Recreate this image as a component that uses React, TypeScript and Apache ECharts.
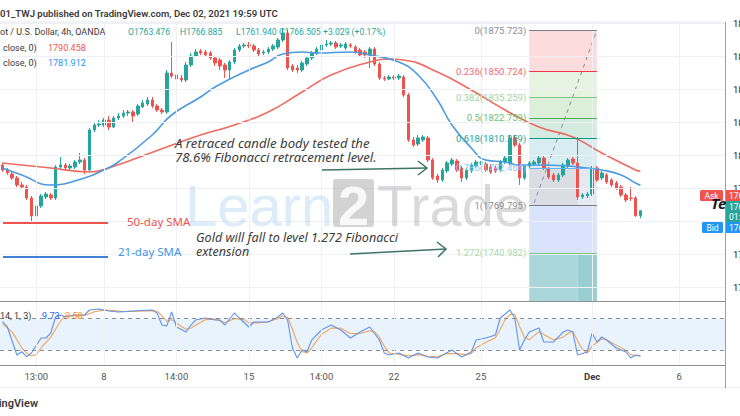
import React, { useEffect, useRef } from 'react';
import * as echarts from 'echarts';

// ---- data ----
const N = 150;
const cats = Array.from({ length: N }, (_, i) => 'b' + i);

// [open, close, low, high]
const candles: number[][] = [
  [1794.22, 1791.19, 1789.98, 1795.43], [1791.19, 1789.37, 1788.16, 1792.4], [1788.76, 1786.34, 1785.13, 1789.98],
  [1786.34, 1782.1, 1780.89, 1787.55], [1782.1, 1780.89, 1779.67, 1783.92], [1780.89, 1774.22, 1773.01, 1782.1],
  [1774.22, 1763.31, 1759.68, 1775.43], [1763.31, 1769.37, 1762.1, 1770.58], [1769.37, 1775.43, 1768.16, 1776.64],
  [1774.83, 1776.64, 1773.61, 1777.86], [1776.04, 1774.22, 1773.01, 1777.25], [1774.22, 1793.0, 1773.01, 1794.22],
  [1793.0, 1794.22, 1791.79, 1799.06], [1794.22, 1792.4, 1791.19, 1795.43], [1792.4, 1793.61, 1791.19, 1794.82],
  [1793.0, 1796.03, 1791.79, 1797.24], [1796.03, 1797.24, 1794.82, 1801.49], [1797.24, 1791.19, 1788.76, 1798.46],
  [1791.19, 1815.43, 1789.98, 1816.64], [1815.43, 1818.46, 1814.21, 1820.27], [1818.46, 1819.06, 1817.24, 1821.49],
  [1818.46, 1821.49, 1817.24, 1822.7], [1821.49, 1817.24, 1815.43, 1823.91], [1817.24, 1822.7, 1816.64, 1823.91],
  [1822.7, 1823.91, 1821.49, 1825.73], [1823.91, 1825.73, 1822.7, 1827.55], [1825.73, 1826.33, 1823.91, 1827.55],
  [1826.33, 1823.91, 1820.27, 1827.55], [1825.12, 1829.97, 1823.91, 1831.18], [1829.36, 1831.79, 1828.76, 1833.61],
  [1831.18, 1833.61, 1829.97, 1835.43], [1833.61, 1829.97, 1828.76, 1835.43], [1829.97, 1827.55, 1826.33, 1831.18],
  [1827.55, 1826.33, 1825.12, 1828.76], [1826.33, 1849.97, 1825.12, 1851.79], [1849.97, 1848.15, 1846.94, 1868.76],
  [1848.76, 1846.33, 1845.12, 1850.58], [1846.94, 1845.73, 1844.52, 1848.76], [1845.73, 1854.82, 1844.52, 1856.64],
  [1854.82, 1860.27, 1853.61, 1862.09], [1860.27, 1862.7, 1859.67, 1864.52], [1863.3, 1862.09, 1860.88, 1864.52],
  [1862.7, 1860.88, 1859.67, 1863.91], [1862.09, 1859.06, 1857.85, 1863.3], [1859.06, 1856.03, 1854.21, 1860.27],
  [1857.85, 1854.21, 1851.79, 1859.06], [1854.82, 1851.79, 1846.94, 1856.03], [1851.79, 1856.64, 1845.73, 1857.85],
  [1856.64, 1863.91, 1855.42, 1865.12], [1863.91, 1866.33, 1862.7, 1867.55], [1866.33, 1866.94, 1865.12, 1868.15],
  [1866.94, 1866.33, 1865.12, 1868.76], [1866.33, 1863.91, 1862.7, 1867.55], [1863.91, 1861.49, 1860.27, 1865.12],
  [1862.09, 1862.7, 1860.88, 1863.91], [1862.7, 1864.52, 1861.49, 1865.73], [1864.52, 1866.33, 1863.3, 1867.55],
  [1865.73, 1869.97, 1864.52, 1871.18], [1869.97, 1874.21, 1868.76, 1877.24], [1874.21, 1853.0, 1851.79, 1876.03],
  [1854.21, 1851.79, 1850.58, 1855.42], [1853.0, 1851.79, 1849.97, 1854.82], [1851.79, 1856.03, 1850.58, 1857.24],
  [1855.42, 1859.06, 1854.21, 1860.27], [1859.06, 1862.09, 1857.85, 1863.3], [1862.09, 1864.52, 1860.88, 1865.73],
  [1863.91, 1866.94, 1862.7, 1868.15], [1866.94, 1867.55, 1865.73, 1869.97], [1867.55, 1868.15, 1866.33, 1869.36],
  [1868.15, 1865.73, 1864.52, 1869.36], [1866.33, 1866.94, 1865.12, 1868.15], [1865.12, 1867.55, 1863.91, 1868.76],
  [1866.94, 1866.33, 1865.12, 1868.15], [1865.73, 1862.7, 1861.49, 1866.94], [1863.91, 1860.88, 1859.67, 1865.12],
  [1862.7, 1860.88, 1859.06, 1863.91], [1860.88, 1864.52, 1853.0, 1865.73], [1864.52, 1855.42, 1854.21, 1865.73],
  [1855.42, 1846.94, 1845.73, 1856.64], [1846.94, 1846.33, 1845.12, 1848.15], [1846.33, 1847.55, 1845.73, 1848.76],
  [1847.55, 1846.94, 1845.73, 1848.76], [1846.94, 1848.15, 1845.73, 1849.36], [1847.55, 1836.64, 1835.43, 1848.76],
  [1836.64, 1809.36, 1808.15, 1837.85], [1809.36, 1806.34, 1805.12, 1811.18], [1806.94, 1810.58, 1805.73, 1812.4],
  [1809.36, 1811.18, 1808.15, 1812.4], [1810.58, 1797.24, 1796.03, 1811.79], [1797.24, 1786.34, 1785.13, 1798.46],
  [1787.55, 1785.13, 1783.31, 1788.76], [1785.13, 1791.19, 1783.92, 1792.4], [1790.58, 1795.43, 1789.37, 1796.64],
  [1794.82, 1797.24, 1793.61, 1798.46], [1796.64, 1791.19, 1789.98, 1797.85], [1792.4, 1786.34, 1783.92, 1793.61],
  [1786.34, 1791.19, 1785.13, 1792.4], [1790.58, 1794.22, 1789.37, 1795.43], [1793.61, 1796.03, 1792.4, 1797.24],
  [1795.43, 1795.63, 1794.22, 1796.64], [1794.82, 1791.19, 1789.98, 1796.03], [1793.0, 1789.98, 1788.76, 1794.22],
  [1792.4, 1790.58, 1789.37, 1793.61], [1791.19, 1796.03, 1789.98, 1797.24], [1796.03, 1798.46, 1794.82, 1800.27],
  [1795.43, 1810.58, 1794.22, 1812.4], [1810.58, 1806.34, 1805.12, 1812.4], [1806.34, 1786.34, 1782.1, 1807.55],
  [1786.34, 1793.61, 1785.13, 1794.82], [1793.61, 1795.43, 1792.4, 1796.64], [1794.82, 1796.03, 1793.61, 1797.24],
  [1795.43, 1798.46, 1794.22, 1800.27], [1798.46, 1792.4, 1791.19, 1799.67], [1791.79, 1786.95, 1785.73, 1793.0],
  [1788.16, 1785.13, 1783.92, 1789.37], [1785.13, 1788.16, 1783.92, 1789.37], [1788.16, 1794.22, 1786.95, 1795.43],
  [1793.61, 1797.24, 1792.4, 1798.46], [1797.85, 1795.43, 1794.22, 1799.06], [1795.43, 1774.83, 1773.01, 1811.18],
  [1774.83, 1776.04, 1773.61, 1777.25], [1775.43, 1776.64, 1774.22, 1777.86], [1776.64, 1792.4, 1775.43, 1793.61],
  [1792.4, 1785.13, 1783.92, 1793.61], [1786.34, 1789.37, 1785.13, 1790.58], [1788.16, 1783.92, 1782.7, 1789.37],
  [1785.13, 1782.1, 1780.89, 1786.34], [1783.31, 1780.28, 1779.07, 1784.52], [1780.89, 1776.04, 1774.83, 1782.1],
  [1776.04, 1773.01, 1771.8, 1777.25], [1774.22, 1774.02, 1772.4, 1780.89], [1774.22, 1763.48, 1762.71, 1775.43],
  [1763.476, 1766.505, 1761.94, 1766.885],
];

// [bar index, value]
const sma50: number[][] = [
  [0, 1795.43], [10, 1792.4], [18, 1789.98], [22, 1792.4], [34, 1805.12], [41, 1812.4], [48, 1818.46],
  [55, 1826.33], [62, 1838.46], [68, 1848.76], [76, 1856.64], [80, 1858.45], [83, 1857.85], [90, 1850.58],
  [97, 1839.67], [104, 1827.55], [111, 1817.24], [118, 1811.18], [124, 1801.49], [131, 1791.19], [132, 1790.458],
];
const sma21: number[][] = [
  [0, 1792.4], [4, 1788.16], [10, 1782.1], [17, 1786.34], [21, 1791.19], [24, 1796.03], [31, 1812.4],
  [35, 1824.51], [41, 1835.43], [44, 1841.49], [51, 1851.79], [55, 1856.64], [58, 1861.49], [62, 1862.7],
  [65, 1862.09], [72, 1862.7], [76, 1860.88], [82, 1856.64], [86, 1848.76], [90, 1833.61], [93, 1818.46],
  [97, 1804.52], [100, 1797.24], [104, 1796.03], [107, 1794.22], [111, 1794.22], [117, 1793.61],
  [121, 1792.4], [124, 1791.19], [128, 1788.16], [131, 1783.31], [132, 1781.912],
];
const stochK: number[][] = [
  [0, 74.2], [1, 64.7], [3, 11.3], [4, 17.5], [5, 8.1], [6, 15.1], [8, 43.4], [9, 43.4], [10, 52.8], [11, 83.0],
  [12, 86.8], [13, 83.0], [15, 86.8], [17, 86.8], [18, 96.2], [20, 98.1], [22, 94.3], [24, 92.5], [27, 94.3],
  [31, 96.2], [32, 90.6], [33, 67.9], [34, 66.0], [35, 92.5], [36, 64.2], [38, 54.7], [39, 67.9], [40, 77.4],
  [42, 81.1], [44, 77.4], [45, 77.4], [46, 67.9], [48, 90.6], [49, 81.1], [51, 64.2], [52, 73.6], [55, 73.6],
  [57, 83.0], [58, 90.6], [59, 77.4], [60, 24.5], [61, 5.7], [62, 20.8], [63, 17.0], [64, 39.6], [66, 58.5],
  [68, 67.9], [70, 58.5], [72, 43.4], [74, 54.7], [76, 64.2], [78, 39.6], [79, 15.1], [80, 11.3], [82, 15.1],
  [84, 5.7], [86, 15.1], [88, 7.5], [90, 5.7], [93, 20.8], [95, 7.5], [97, 17.0], [98, 39.6], [100, 43.4],
  [102, 49.1], [103, 81.1], [105, 96.2], [106, 81.1], [107, 20.8], [108, 39.6], [109, 54.7], [111, 62.3],
  [112, 35.8], [114, 35.8], [116, 54.7], [117, 58.5], [118, 54.7], [119, 11.3], [121, 17.0], [122, 52.8],
  [123, 35.8], [124, 45.3], [125, 39.6], [127, 24.5], [129, 17.0], [130, 5.7], [131, 11.3], [132, 9.73],
];
const stochD: number[][] = [
  [0, 70], [2, 55], [4, 25], [5, 15], [6, 10], [7, 12], [8, 25], [9, 35], [10, 45], [11, 60], [12, 75], [13, 85],
  [15, 85], [17, 86], [19, 93], [21, 96], [23, 95], [25, 93], [28, 94], [31, 95], [32, 94], [33, 85], [34, 75],
  [35, 78], [36, 72], [37, 65], [38, 60], [39, 62], [40, 68], [42, 78], [44, 79], [46, 72], [47, 76], [48, 80],
  [50, 78], [51, 72], [53, 72], [55, 74], [57, 80], [58, 85], [59, 82], [60, 60], [61, 35], [62, 18], [63, 15],
  [64, 25], [65, 38], [66, 50], [68, 62], [70, 62], [72, 52], [74, 52], [76, 57], [77, 55], [78, 45], [79, 28],
  [80, 15], [82, 13], [84, 10], [86, 12], [88, 9], [90, 8], [92, 14], [94, 14], [96, 12], [97, 14], [98, 25],
  [100, 35], [102, 44], [103, 60], [104, 78], [105, 88], [106, 88], [107, 65], [108, 45], [109, 40], [110, 48],
  [111, 55], [112, 50], [114, 40], [116, 45], [117, 52], [118, 56], [119, 38], [120, 22], [121, 15], [122, 28],
  [123, 35], [124, 42], [125, 40], [127, 30], [129, 20], [130, 12], [131, 10], [132, 9.58],
];

const timeTicks = [7, 21, 36, 51, 66, 81, 99, 122, 140];
const timeLabels = ['13:00', '8', '14:00', '15', '14:00', '22', '25', 'Dec', '6'];
const priceTicks = [1880, 1860, 1840, 1820, 1800, 1780, 1760, 1740, 1720];
const stochTicks = [100, 50, 0];
const stochBand = [20, 80];

const fibLevels = ['0', '0.236', '0.382', '0.5', '0.618', '0.786', '1', '1.272'];
const fibPrices = [1875.723, 1850.724, 1835.259, 1822.759, 1810.259, 1792.464, 1769.795, 1740.982];
const fibLineColors = ['#787b86', '#f23645', '#81c784', '#4caf50', '#089981', '#64b5f6', '#787b86', '#81c784'];
const fibLabelColors = ['#8a8d96', '#f26b75', '#9fd3a1', '#6dbf70', '#2aa594', '#8cc7f7', '#8a8d96', '#a7d8a9'];
const fibAreaColors = ['#fcdcdc', '#e6f3e0', '#dcefd8', '#d3ebe1', '#d8edf1', '#e4e9f2', '#d9e3fb'];
const fibStart = 109;
const fibMid = 119;
const fibEnd = 123;
const fibTrend = [[110, 1771.2], [123, 1876.0]];

const Y_MIN = 1711.784;
const Y_MAX = 1880.875;
const S_MIN = -7.5;
const S_MAX = 111.3;

const FONT = 'Roboto, "Noto Sans", sans-serif';
const IFONT = '"Noto Sans", "DejaVu Sans", sans-serif';
const WFONT = '"Liberation Sans", Arial, sans-serif';

function buildOption() {
  const c = (i: number) => cats[i];
  const pricePairs = (arr: number[][]) => arr.map(([i, v]) => [c(i), v]);

  const fibAreas: any[] = [];
  for (let k = 0; k < fibPrices.length - 1; k++) {
    fibAreas.push([
      { xAxis: c(fibStart), yAxis: fibPrices[k], itemStyle: { color: fibAreaColors[k] } },
      { xAxis: c(fibEnd), yAxis: fibPrices[k + 1] },
    ]);
  }
  fibAreas.push([
    { xAxis: c(fibStart), yAxis: fibPrices[7], itemStyle: { color: '#aad6d9' } },
    { xAxis: c(fibMid), yAxis: Y_MIN },
  ]);
  fibAreas.push([
    { xAxis: c(fibMid), yAxis: fibPrices[7], itemStyle: { color: '#99ced2' } },
    { xAxis: c(fibEnd), yAxis: Y_MIN },
  ]);
  fibAreas.push([
    { xAxis: c(fibStart), yAxis: fibPrices[5], itemStyle: { color: 'rgba(200,200,200,0.35)' } },
    { xAxis: c(fibMid), yAxis: fibPrices[6] },
  ]);

  const fibLines = fibPrices.map((p, k) => [
    {
      coord: [c(fibStart), p],
      lineStyle: { color: fibLineColors[k], width: 1, type: 'solid' },
      label: {
        show: true,
        position: 'start',
        distance: 3,
        formatter: `${fibLevels[k]}(${p.toFixed(3)})`,
        color: fibLabelColors[k],
        fontSize: 9.5,
        fontFamily: FONT,
        padding: [0, 0, 9, 0],
      },
    },
    { coord: [c(fibEnd), p] },
  ]);

  const txt = (x: number, y: number, text: string, fill: string, extra: any = {}, z = 30) => ({
    type: 'text', z, x, y,
    style: { text, fill, fontSize: 9, fontFamily: FONT, verticalAlign: 'middle', ...extra },
  });

  return {
    animation: false,
    backgroundColor: '#ffffff',
    grid: [
      { left: 0, right: 15, top: 22, height: 279 },
      { left: 0, right: 15, top: 302, height: 63 },
    ],
    xAxis: [
      {
        type: 'category', gridIndex: 0, data: cats, boundaryGap: true,
        axisLine: { show: false }, axisTick: { show: false }, axisLabel: { show: false }, splitLine: { show: false },
      },
      {
        type: 'category', gridIndex: 1, data: cats, boundaryGap: true,
        axisLine: { show: false }, axisTick: { show: false }, splitLine: { show: false },
        axisLabel: {
          show: true,
          interval: (i: number) => timeTicks.indexOf(i) >= 0,
          formatter: (_v: string, i: number) => {
            const k = timeTicks.indexOf(i);
            if (k < 0) return '';
            return timeLabels[k] === 'Dec' ? '{b|Dec}' : timeLabels[k];
          },
          rich: { b: { fontWeight: 'bold', color: '#3a3a3a', fontSize: 9.5, fontFamily: FONT } },
          margin: 6,
          fontSize: 9.5,
          fontFamily: FONT,
          color: '#555555',
        },
      },
    ],
    yAxis: [
      {
        type: 'value', gridIndex: 0, min: Y_MIN, max: Y_MAX, position: 'right',
        axisLine: { show: false }, axisTick: { show: false }, axisLabel: { show: false }, splitLine: { show: false },
      },
      {
        type: 'value', gridIndex: 1, min: S_MIN, max: S_MAX, position: 'right',
        axisLine: { show: false }, axisTick: { show: false }, axisLabel: { show: false }, splitLine: { show: false },
      },
    ],
    series: [
      {
        type: 'line', xAxisIndex: 0, yAxisIndex: 0, data: [], z: 0, silent: true,
        markLine: {
          silent: true, symbol: ['none', 'none'], animation: false,
          lineStyle: { color: '#eef0f5', width: 1, type: 'solid' },
          label: { show: false },
          emphasis: { disabled: true },
          data: [
            ...priceTicks.map((v) => ({
              yAxis: v,
              label: { show: true, position: 'end', distance: 8, formatter: v.toFixed(3), color: '#131722', fontSize: 9.5, fontFamily: FONT },
            })),
            ...timeTicks.map((i) => ({ xAxis: c(i) })),
          ],
        },
      },
      {
        type: 'line', xAxisIndex: 0, yAxisIndex: 0, data: [], z: 1, silent: true,
        markArea: { silent: true, data: fibAreas },
        markLine: { silent: true, symbol: ['none', 'none'], emphasis: { disabled: true }, data: fibLines },
      },
      {
        type: 'line', xAxisIndex: 0, yAxisIndex: 0, z: 2, silent: true, showSymbol: false,
        data: fibTrend.map(([i, v]) => [c(i), v]),
        lineStyle: { color: '#8a8d96', width: 1, type: [4, 4] },
      },
      {
        type: 'candlestick', xAxisIndex: 0, yAxisIndex: 0, z: 3, barWidth: 3,
        data: candles,
        itemStyle: { color: '#26a69a', color0: '#ef5350', borderColor: '#26a69a', borderColor0: '#ef5350', borderWidth: 1 },
      },
      {
        type: 'line', xAxisIndex: 0, yAxisIndex: 0, z: 4, smooth: true, showSymbol: false, silent: true,
        data: pricePairs(sma50), lineStyle: { color: '#ef6b5f', width: 1.6 },
      },
      {
        type: 'line', xAxisIndex: 0, yAxisIndex: 0, z: 4, smooth: true, showSymbol: false, silent: true,
        data: pricePairs(sma21), lineStyle: { color: '#4a9ae0', width: 1.6 },
      },
      {
        type: 'line', xAxisIndex: 1, yAxisIndex: 1, data: [], z: 0, silent: true,
        markArea: {
          silent: true,
          data: [[{ yAxis: stochBand[0], itemStyle: { color: '#e9f3fd' } }, { yAxis: stochBand[1] }]],
        },
        markLine: {
          silent: true, symbol: ['none', 'none'], emphasis: { disabled: true },
          data: [
            ...stochBand.map((v) => ({ yAxis: v, lineStyle: { color: '#8a8d96', width: 1, type: [4, 4] }, label: { show: false } })),
            ...timeTicks.map((i) => ({ xAxis: c(i), lineStyle: { color: '#eef0f5', width: 1, type: 'solid' }, label: { show: false } })),
            ...stochTicks.map((v) => ({
              yAxis: v, lineStyle: { opacity: 0 },
              label: { show: true, position: 'end', distance: 8, formatter: v.toFixed(2), color: '#131722', fontSize: 9.5, fontFamily: FONT },
            })),
          ],
        },
      },
      {
        type: 'line', xAxisIndex: 1, yAxisIndex: 1, z: 3, showSymbol: false, silent: true,
        data: pricePairs(stochD), lineStyle: { color: '#f5a25c', width: 1.1 },
      },
      {
        type: 'line', xAxisIndex: 1, yAxisIndex: 1, z: 4, showSymbol: false, silent: true,
        data: pricePairs(stochK), lineStyle: { color: '#6193ea', width: 1.1 },
      },
    ],
    graphic: [
      // pane borders
      { type: 'line', z: 20, shape: { x1: 0, y1: 22, x2: 725, y2: 22 }, style: { stroke: '#e4e6eb', lineWidth: 1 } },
      { type: 'line', z: 20, shape: { x1: 0, y1: 301.5, x2: 725, y2: 301.5 }, style: { stroke: '#8c8f96', lineWidth: 1.2 } },
      { type: 'line', z: 20, shape: { x1: 0, y1: 365.5, x2: 725, y2: 365.5 }, style: { stroke: '#8c8f96', lineWidth: 1.2 } },
      { type: 'line', z: 20, shape: { x1: 0, y1: 387.5, x2: 740, y2: 387.5 }, style: { stroke: '#eceef2', lineWidth: 1 } },
      { type: 'line', z: 20, shape: { x1: 725.5, y1: 22, x2: 725.5, y2: 388 }, style: { stroke: '#9a9da5', lineWidth: 1 } },
      // header
      txt(0, 13, '01_TWJ published on TradingView.com, Dec 02, 2021 19:59 UTC', '#3a3a3a', { fontSize: 9.6, fontWeight: 600 }),
      txt(0, 32, 'ot / U.S. Dollar, 4h, OANDA', '#3a3a3a'),
      txt(128, 32, 'O1763.476', '#26a69a', { fontSize: 8.6 }),
      txt(180, 32, 'H1766.885', '#26a69a', { fontSize: 8.6 }),
      txt(236, 32, 'L1761.940', '#26a69a', { fontSize: 8.6 }),
      txt(279, 32, 'C1766.505', '#26a69a', { fontSize: 8.6 }),
      txt(323, 32, '+3.029 (+0.17%)', '#26a69a', { fontSize: 8.6 }),
      txt(3, 48, 'close, 0)', '#3a3a3a'),
      txt(48, 48, '1790.458', '#ef5350'),
      txt(3, 63, 'close, 0)', '#3a3a3a'),
      txt(48, 63, '1781.912', '#2196f3'),
      // stoch header
      txt(0, 316, '14, 1, 3)', '#3a3a3a'),
      txt(42, 316, '9.73', '#2962ff'),
      txt(65, 316, '9.58', '#ff8a1f'),
      // footer
      txt(38, 403, 'TradingView', '#3a3a3a', { fontSize: 11, fontWeight: 600, align: 'right' }),
      // watermark
      { type: 'text', z: 15, x: 185, y: 205, style: { text: 'Learn', fill: 'rgba(130,185,235,0.28)', fontSize: 58, fontFamily: WFONT, verticalAlign: 'middle' } },
      { type: 'rect', z: 15, shape: { x: 333, y: 179, width: 41, height: 48, r: 3 }, style: { fill: 'rgba(150,150,150,0.42)' } },
      { type: 'text', z: 16, x: 353.5, y: 205, style: { text: '2', fill: 'rgba(255,255,255,0.85)', fontSize: 56, fontWeight: 'bold', fontFamily: WFONT, align: 'center', verticalAlign: 'middle' } },
      { type: 'text', z: 15, x: 377, y: 205, style: { text: 'Trade', fill: 'rgba(150,150,150,0.35)', fontSize: 58, fontFamily: WFONT, verticalAlign: 'middle' } },
      // annotations
      { type: 'text', z: 31, x: 175, y: 143, style: { text: 'A retraced candle body tested the', fill: '#3c3c3c', fontSize: 13.2, fontStyle: 'italic', fontFamily: IFONT, verticalAlign: 'middle' } },
      { type: 'text', z: 31, x: 175, y: 157, style: { text: '78.6% Fibonacci retracement level.', fill: '#3c3c3c', fontSize: 13.2, fontStyle: 'italic', fontFamily: IFONT, verticalAlign: 'middle' } },
      { type: 'polyline', z: 31, shape: { points: [[322, 170], [427, 168]] }, style: { stroke: '#3d7565', lineWidth: 1.5, fill: null } },
      { type: 'polyline', z: 31, shape: { points: [[418, 161], [427, 168], [418, 175]] }, style: { stroke: '#3d7565', lineWidth: 1.5, fill: null } },
      { type: 'text', z: 31, x: 196, y: 237, style: { text: 'Gold will fall to level 1.272 Fibonacci', fill: '#3c3c3c', fontSize: 12.6, fontStyle: 'italic', fontFamily: IFONT, verticalAlign: 'middle' } },
      { type: 'text', z: 31, x: 196, y: 251, style: { text: 'extension', fill: '#3c3c3c', fontSize: 12.6, fontStyle: 'italic', fontFamily: IFONT, verticalAlign: 'middle' } },
      { type: 'polyline', z: 31, shape: { points: [[350, 254], [446, 249]] }, style: { stroke: '#3d7565', lineWidth: 1.5, fill: null } },
      { type: 'polyline', z: 31, shape: { points: [[437, 242], [446, 249], [438, 257]] }, style: { stroke: '#3d7565', lineWidth: 1.5, fill: null } },
      { type: 'line', z: 31, shape: { x1: 3, y1: 223, x2: 108, y2: 223 }, style: { stroke: '#ef5350', lineWidth: 2 } },
      { type: 'text', z: 31, x: 127, y: 221, style: { text: '50-day SMA', fill: '#ef5350', fontSize: 11.5, fontFamily: IFONT, verticalAlign: 'middle' } },
      { type: 'line', z: 31, shape: { x1: 3, y1: 257, x2: 108, y2: 257 }, style: { stroke: '#3f7fd6', lineWidth: 2 } },
      { type: 'text', z: 31, x: 118, y: 251, style: { text: '21-day SMA', fill: '#3f95e6', fontSize: 11.5, fontFamily: IFONT, verticalAlign: 'middle' } },
      // ask / bid
      { type: 'rect', z: 32, shape: { x: 700, y: 190, width: 23, height: 11, r: 1.5 }, style: { fill: '#ef5350' } },
      txt(711.5, 195.5, 'Ask', '#ffffff', { fontSize: 8.5, align: 'center' }, 34),
      { type: 'rect', z: 32, shape: { x: 726, y: 190, width: 20, height: 11 }, style: { fill: '#ef5350' } },
      txt(729, 195.5, '1766.818', '#ffffff', { fontSize: 8.5 }, 34),
      { type: 'rect', z: 32, shape: { x: 726, y: 201, width: 20, height: 21 }, style: { fill: '#26a69a' } },
      txt(729, 206.5, '1766.505', '#ffffff', { fontSize: 8.5 }, 34),
      txt(729, 216.5, '01:00', '#ffffff', { fontSize: 8.5 }, 34),
      { type: 'text', z: 35, x: 711, y: 203, style: { text: 'Te', fill: '#131722', fontSize: 15, fontStyle: 'italic', fontWeight: 'bold', fontFamily: IFONT, verticalAlign: 'middle' } },
      { type: 'rect', z: 32, shape: { x: 702, y: 222, width: 21, height: 11, r: 1.5 }, style: { fill: '#2196f3' } },
      txt(712.5, 227.5, 'Bid', '#ffffff', { fontSize: 8.5, align: 'center' }, 34),
      { type: 'rect', z: 32, shape: { x: 726, y: 222, width: 20, height: 11 }, style: { fill: '#2196f3' } },
      txt(729, 227.5, '1766.305', '#ffffff', { fontSize: 8.5 }, 34),
    ],
  };
}

export default function App() {
  const ref = useRef<HTMLDivElement>(null);
  useEffect(() => {
    if (!ref.current) return;
    const chart = echarts.init(ref.current, null, { renderer: 'svg' });
    chart.setOption(buildOption() as any);
    return () => chart.dispose();
  }, []);
  return <div ref={ref} style={{ position: 'absolute', left: 0, top: 0, width: 740, height: 416 }} />;
}
